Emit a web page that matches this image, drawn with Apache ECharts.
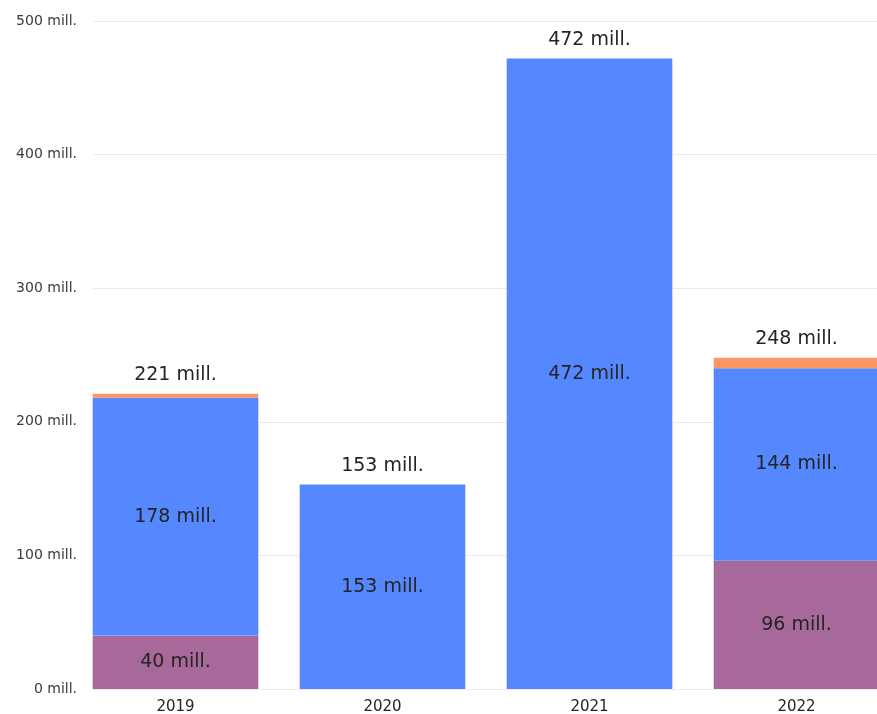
<!DOCTYPE html>
<html>
<head>
<meta charset="utf-8">
<script src="https://cdn.jsdelivr.net/npm/echarts@6/dist/echarts.min.js"></script>
<style>
html,body{margin:0;padding:0;background:#fff;}
#c{width:877px;height:714px;}
</style>
</head>
<body>
<div id="c"></div>
<script>
var categories = ['2019', '2020', '2021', '2022'];
var purpleValues = [40, null, null, 96];
var blueValues = [178, 153, 472, 144];
var orangeValues = [3, null, null, 8];
var totalValues = [221, 153, 472, 248];
var yTicks = [0, 100, 200, 300, 400, 500];

var FONT = 'DejaVu Sans';
var chart = echarts.init(document.getElementById('c'), null, {renderer: 'canvas'});
function fmt(v) { return v + ' mill.'; }
var insideLabel = {
  show: true, position: 'inside', fontFamily: FONT, fontSize: 19, color: '#252423',
  formatter: function (p) { return p.value == null ? '' : fmt(p.value); }
};
chart.setOption({
  animation: false,
  backgroundColor: '#ffffff',
  grid: [
    {left: 72, width: 828, top: 21, bottom: 25, outerBoundsMode: 'none', containLabel: false},
    {left: 93, right: 0, top: 21, bottom: 25, outerBoundsMode: 'none', containLabel: false}
  ],
  xAxis: [
    {type: 'category', gridIndex: 0, data: categories,
     axisLine: {show: false}, axisTick: {show: false},
     axisLabel: {fontFamily: FONT, fontSize: 15, color: '#252423', margin: 11}},
    {type: 'category', gridIndex: 1, data: categories, show: false}
  ],
  yAxis: [
    {type: 'value', gridIndex: 0, min: 0, max: 500, interval: 100, show: false, splitLine: {show: false}},
    {type: 'value', gridIndex: 1, min: yTicks[0], max: yTicks[yTicks.length - 1], interval: 100,
     axisLine: {show: false}, axisTick: {show: false},
     splitLine: {lineStyle: {color: '#ececec', width: 1}},
     axisLabel: {fontFamily: FONT, fontSize: 14, color: '#3b3a39', margin: 16, formatter: fmt}}
  ],
  series: [
    {type: 'bar', name: 'total', xAxisIndex: 0, yAxisIndex: 0, data: totalValues,
     barCategoryGap: '20%', barGap: '-100%', z: 1,
     itemStyle: {color: 'rgba(0,0,0,0)'},
     label: {show: true, position: 'top', distance: 9, fontFamily: FONT, fontSize: 19, color: '#252423', formatter: function (p) { return fmt(p.value); }}},
    {type: 'bar', name: 'purple', stack: 's', xAxisIndex: 0, yAxisIndex: 0, data: purpleValues,
     barCategoryGap: '20%', z: 2, itemStyle: {color: '#A66999'}, label: insideLabel},
    {type: 'bar', name: 'blue', stack: 's', xAxisIndex: 0, yAxisIndex: 0, data: blueValues,
     barCategoryGap: '20%', z: 2, itemStyle: {color: '#5588FF'}, label: insideLabel},
    {type: 'bar', name: 'orange', stack: 's', xAxisIndex: 0, yAxisIndex: 0, data: orangeValues,
     barCategoryGap: '20%', z: 2, itemStyle: {color: '#FE9666'}, label: {show: false}}
  ]
});
</script>
</body>
</html>
